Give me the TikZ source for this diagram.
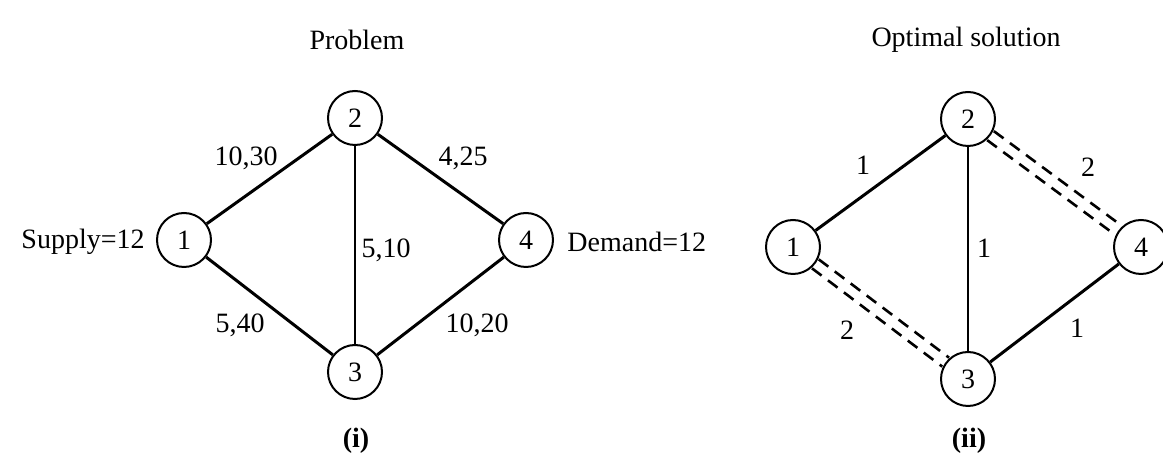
\documentclass[tikz,border=0pt]{standalone}
\usepackage{fontspec}
\setmainfont{Liberation Serif}
\usetikzlibrary{positioning,calc}
\tikzset{
  vertex/.style={draw,circle,line width=1pt,minimum size=27pt,inner sep=0pt,
    font=\fontsize{14}{16}\selectfont},
  lbl/.style={font=\fontsize{14}{16}\selectfont,inner sep=1pt},
  link/.style={line width=1.5pt},
  midlink/.style={line width=0.9pt},
  flowdash/.style={line width=1.3pt,dash pattern=on 6pt off 4pt}
}
\begin{document}
\begin{tikzpicture}[x=0.5pt,y=-0.5pt]
  \useasboundingbox (0,0) rectangle (1163,469);
  % (i) problem
  \node[lbl] (ttlA) at (357,40) {Problem};
  \node[vertex] (a1) at (184,240) {1};
  \node[vertex] (a2) at (355,118) {2};
  \node[vertex] (a3) at (355,372) {3};
  \node[vertex] (a4) at (526,240) {4};
  \node[lbl,anchor=east] (sup) at (147,242) {Supply=12};
  \node[lbl,anchor=west] (dem) at (565,242) {Demand=12};
  \draw[link] (a1) -- (a2);
  \draw[link] (a2) -- (a4);
  \draw[link] (a1) -- (a3);
  \draw[link] (a3) -- (a4);
  \draw[midlink] (a2) -- (a3);
  \node[lbl] (c12) at (246,158) {10,30};
  \node[lbl] (c24) at (463,158) {4,25};
  \node[lbl] (c23) at (386,250) {5,10};
  \node[lbl] (c13) at (240,325) {5,40};
  \node[lbl] (c34) at (477,325) {10,20};
  \node[lbl,font=\fontsize{14}{16}\selectfont\bfseries] (capA) at (356,441) {(i)};
  % (ii) optimal solution
  \node[lbl] (ttlB) at (966,40) {Optimal solution};
  \node[vertex] (b1) at (793,247) {1};
  \node[vertex] (b2) at (968,119) {2};
  \node[vertex] (b3) at (968,379) {3};
  \node[vertex] (b4) at (1141,247) {4};
  \draw[link] (b1) -- (b2);
  \draw[link] (b3) -- (b4);
  \draw[midlink] (b2) -- (b3);
  \foreach \ang in {53.5,233.5}
    \draw[flowdash,transform canvas={shift={(\ang:2.8pt)}}] (b2) -- (b4);
  \foreach \ang in {53,233}
    \draw[flowdash,transform canvas={shift={(\ang:2.8pt)}}] (b1) -- (b3);
  \node[lbl] (f12) at (863,165) {1};
  \node[lbl] (f24) at (1088,167) {2};
  \node[lbl] (f23) at (984,248) {1};
  \node[lbl] (f13) at (847,330) {2};
  \node[lbl] (f34) at (1077,328) {1};
  \node[lbl,font=\fontsize{14}{16}\selectfont\bfseries] (capB) at (969,441) {(ii)};
\end{tikzpicture}
\end{document}
